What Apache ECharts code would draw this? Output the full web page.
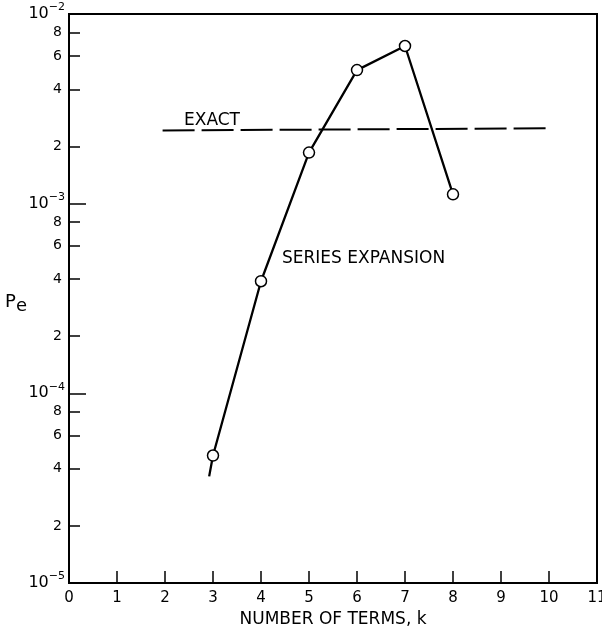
<!DOCTYPE html>
<html>
<head>
<meta charset="utf-8">
<script src="https://cdn.jsdelivr.net/npm/echarts@6/dist/echarts.min.js"></script>
<style>html,body{margin:0;padding:0;background:#fff;}#c{width:602px;height:629px;}</style>
</head>
<body>
<div id="c"></div>
<script>
// Series expansion points (k, Pe)
const seriesK = [3, 4, 5, 6, 7, 8];
const seriesPe = [4.7e-5, 3.9e-4, 1.86e-3, 5.06e-3, 6.78e-3, 1.12e-3];
// line continues slightly below k=3 (no marker)
const tailK = 2.92;
const tailPe = 3.65e-5;
// Exact value (dashed line)
const exactK = [1.95, 10];
const exactPe = [2.43e-3, 2.5e-3];
// Axis ticks
const minorDigits = [2, 4, 6, 8];
const decades = [-5, -4, -3];

const minorValues = [];
decades.forEach(function (d) {
  minorDigits.forEach(function (m) { minorValues.push(m * Math.pow(10, d)); });
});

const FONT = 'DejaVu Sans';
const seriesData = [{ value: [tailK, tailPe], symbol: 'none' }].concat(
  seriesK.map(function (k, i) { return [k, seriesPe[i]]; })
);
const exactData = exactK.map(function (k, i) { return [k, exactPe[i]]; });

const chart = echarts.init(document.getElementById('c'), null, { renderer: 'canvas' });
chart.setOption({
  animation: false,
  backgroundColor: '#fff',
  grid: { left: 69, right: 5, top: 14, bottom: 46, show: true, borderColor: '#000', borderWidth: 2,
          outerBoundsMode: 'none', containLabel: false },
  xAxis: {
    type: 'value', min: 0, max: 11, interval: 1,
    name: 'NUMBER OF TERMS, k', nameLocation: 'middle', nameGap: 27,
    nameTextStyle: { fontFamily: FONT, fontSize: 17, color: '#000' },
    axisLine: { show: true, lineStyle: { color: '#000', width: 2 } },
    axisTick: { show: true, inside: true, length: 12, lineStyle: { color: '#000', width: 1.5 } },
    axisLabel: { fontFamily: FONT, fontSize: 15, color: '#000', margin: 8, showMinLabel: true, showMaxLabel: true },
    splitLine: { show: false }
  },
  yAxis: [{
    type: 'log', logBase: 10, min: 1e-5, max: 1e-2, splitNumber: 3,
    axisLine: { show: true, lineStyle: { color: '#000', width: 2 } },
    axisTick: { show: true, inside: true, length: 17, lineStyle: { color: '#000', width: 1.5 } },
    axisLabel: {
      margin: 4, color: '#000',
      formatter: function (v) {
        const e = Math.round(Math.log10(v));
        return '{b|10}{s|\u2212' + Math.abs(e) + '}';
      },
      rich: {
        b: { fontFamily: FONT, fontSize: 16, lineHeight: 24, verticalAlign: 'middle', color: '#000' },
        s: { fontFamily: FONT, fontSize: 11, lineHeight: 11, verticalAlign: 'top', color: '#000' }
      }
    },
    splitLine: { show: false },
    minorTick: { show: false }
  }, {
    type: 'log', logBase: 10, min: 1e-5, max: 1e-2, position: 'left',
    axisLine: { show: false },
    axisTick: { show: true, inside: true, length: 11, customValues: minorValues, lineStyle: { color: '#000', width: 1.5 } },
    axisLabel: {
      show: true, margin: 7, customValues: minorValues, color: '#000',
      fontFamily: FONT, fontSize: 14,
      formatter: function (v) {
        const p = Math.floor(Math.log10(v) + 1e-9);
        return String(Math.round(v / Math.pow(10, p)));
      }
    },
    splitLine: { show: false }
  }],
  series: [{
    type: 'line', name: 'SERIES EXPANSION', data: seriesData, yAxisIndex: 0,
    symbol: 'circle', symbolSize: 11, showAllSymbol: true,
    lineStyle: { color: '#000', width: 2.3 },
    itemStyle: { color: '#fff', borderColor: '#000', borderWidth: 1.5 },
    z: 3
  }, {
    type: 'line', name: 'EXACT', data: exactData, yAxisIndex: 0,
    symbol: 'none',
    lineStyle: { color: '#000', width: 2, type: [32, 7] },
    z: 2
  }],
  graphic: [
    { type: 'text', x: 184, y: 121, style: { text: 'EXACT', fontFamily: FONT, fontSize: 17, fill: '#000', align: 'left', verticalAlign: 'middle' } },
    { type: 'text', x: 282, y: 259, style: { text: 'SERIES EXPANSION', fontFamily: FONT, fontSize: 17, fill: '#000', align: 'left', verticalAlign: 'middle' } },
    { type: 'text', x: 5, y: 302.5, style: { text: 'P', fontFamily: FONT, fontSize: 18, fill: '#000', align: 'left', verticalAlign: 'middle' } },
    { type: 'text', x: 16, y: 306.5, style: { text: 'e', fontFamily: FONT, fontSize: 18, fill: '#000', align: 'left', verticalAlign: 'middle' } }
  ]
});
</script>
</body>
</html>
